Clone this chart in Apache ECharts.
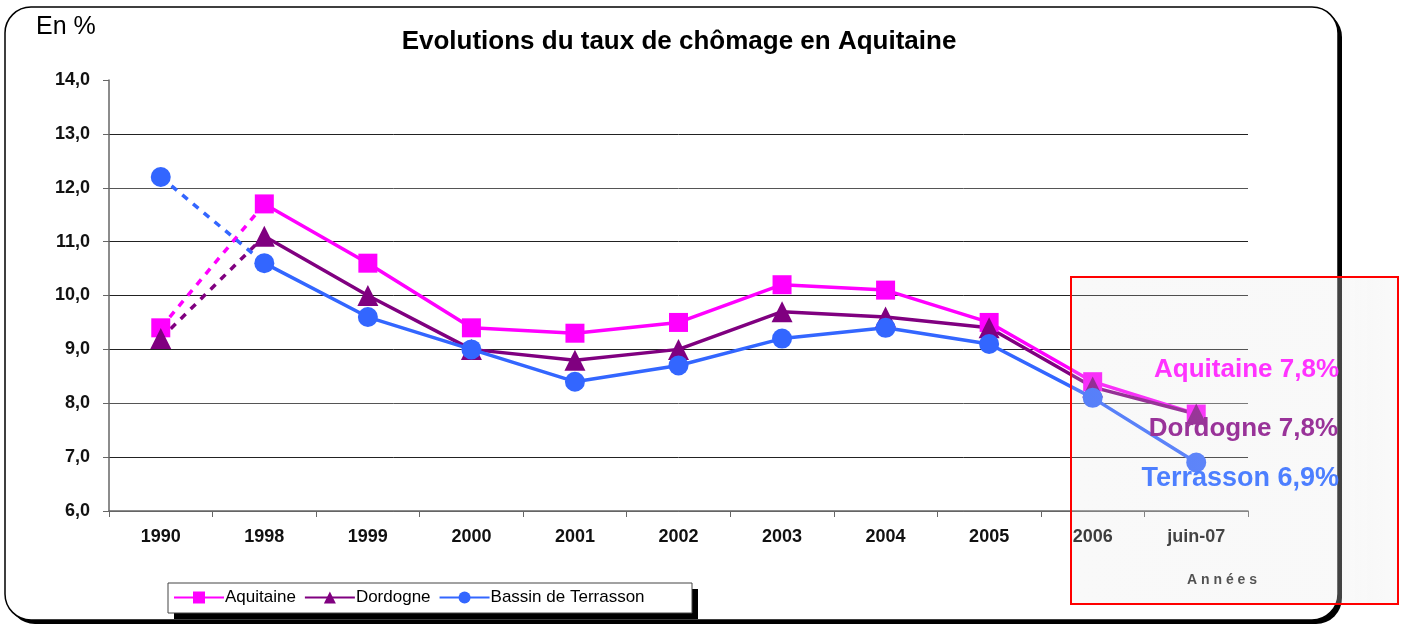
<!DOCTYPE html>
<html>
<head>
<meta charset="utf-8">
<script src="https://cdn.jsdelivr.net/npm/echarts@6/dist/echarts.min.js"></script>
<style>
  html, body { margin: 0; padding: 0; background: #fff; }
  #chart { width: 1405px; height: 626px; }
</style>
</head>
<body>
<div id="chart"></div>
<script>
// categories (années)
const annees = ['1990', '1998', '1999', '2000', '2001', '2002', '2003', '2004', '2005', '2006', 'juin-07']
// taux de chômage en %
const aquitaine = [9.4, 11.7, 10.6, 9.4, 9.3, 9.5, 10.2, 10.1, 9.5, 8.4, 7.8]
const dordogne = [9.2, 11.1, 10.0, 9.0, 8.8, 9.0, 9.7, 9.6, 9.4, 8.3, 7.8]
const terrasson = [12.2, 10.6, 9.6, 9.0, 8.4, 8.7, 9.2, 9.4, 9.1, 8.1, 6.9]

const couleurs = { aq: '#ff00ff', dor: '#800080', ter: '#3366ff' }
const fmt = v => v.toFixed(1).replace('.', ',')

// partie pleine (1998 -> juin-07) et partie pointillée (1990 -> 1998)
const plein = arr => arr.map((v, i) => (i === 0 ? null : v))
const pointille = arr => arr.map((v, i) => (i <= 1 ? v : null))

function serie(name, arr, color, symbol, size) {
  return [
    {
      name,
      type: 'line',
      data: plein(arr),
      symbol,
      symbolSize: size,
      itemStyle: { color },
      lineStyle: { color, width: 3.5 },
      z: 3
    },
    {
      name: name + '_dash',
      type: 'line',
      data: pointille(arr),
      symbol: (v, p) => (p.dataIndex === 0 ? symbol : 'none'),
      symbolSize: size,
      itemStyle: { color },
      lineStyle: { color, width: 3.5, type: [7, 7] },
      z: 2
    }
  ]
}

const chart = echarts.init(document.getElementById('chart'))

const last = annees.length - 1
const labelFont = size => 'bold ' + size + 'px "Liberation Sans", Arial, sans-serif'

chart.setOption({
  animation: false,
  textStyle: { fontFamily: '"Liberation Sans", Arial, sans-serif' },
  title: {
    text: 'Evolutions du taux de chômage en Aquitaine',
    left: 674,
    textAlign: 'center',
    top: 24,
    textStyle: { fontSize: 26, fontWeight: 'bold', color: '#000' }
  },
  grid: { left: 109, right: 157, top: 80, bottom: 115, containLabel: false },
  legend: {
    data: ['Aquitaine', 'Dordogne', 'Bassin de Terrasson'],
    left: 168,
    top: 589,
    itemWidth: 50,
    itemHeight: 15,
    itemGap: 8,
    padding: [0, 0, 0, 5],
    textStyle: { fontSize: 17, color: '#000', padding: [0, 0, 0, -4] }
  },
  xAxis: {
    type: 'category',
    data: annees,
    boundaryGap: true,
    axisLine: { lineStyle: { color: '#666', width: 1.5 } },
    axisTick: { show: true, length: 6, inside: false, lineStyle: { color: '#666' } },
    axisLabel: { fontSize: 18, fontWeight: 'bold', color: '#111', margin: 17 }
  },
  yAxis: {
    type: 'value',
    min: 6,
    max: 14,
    interval: 1,
    axisLine: { show: true, lineStyle: { color: '#666', width: 1.5 } },
    axisTick: { show: true, length: 6, lineStyle: { color: '#666' } },
    axisLabel: { fontSize: 18, fontWeight: 'bold', color: '#111', margin: 19, formatter: fmt },
    splitLine: {
      lineStyle: {
        color: ['#666', '#222', '#555', '#222', '#222', '#222', '#555', '#222', 'transparent'],
        width: 1
      }
    }
  },
  series: [
    ...serie('Aquitaine', aquitaine, couleurs.aq, 'rect', 19),
    ...serie('Dordogne', dordogne, couleurs.dor, 'triangle', 21),
    ...serie('Bassin de Terrasson', terrasson, couleurs.ter, 'circle', 20)
  ],
  graphic: [
    // cadre arrondi avec ombre
    {
      type: 'rect', z: -20, silent: true,
      shape: { x: 9, y: 11, width: 1333, height: 613, r: 26 },
      style: { fill: '#000' }
    },
    {
      type: 'rect', z: -19, silent: true,
      shape: { x: 5, y: 7, width: 1333, height: 613, r: 26 },
      style: { fill: '#fff', stroke: '#000', lineWidth: 1.5 }
    },
    // boîte de la légende avec ombre
    {
      type: 'rect', z: 1, silent: true,
      shape: { x: 174, y: 589, width: 524, height: 30 },
      style: { fill: '#000' }
    },
    {
      type: 'rect', z: 2, silent: true,
      shape: { x: 168, y: 583, width: 524, height: 30 },
      style: { fill: '#fff', stroke: '#444', lineWidth: 1 }
    },
    {
      type: 'text', left: 36, top: 15, z: 10,
      style: { text: 'En %', font: '25px "Liberation Sans", Arial, sans-serif', fill: '#000' }
    },
    {
      type: 'text', left: 1187, top: 573, z: 10,
      style: { text: 'A n n é e s', font: 'bold 14px "Liberation Sans", Arial, sans-serif', fill: '#222' }
    },
    // encadré rouge
    {
      type: 'rect', z: 50, silent: true,
      shape: { x: 1071, y: 277, width: 327, height: 327 },
      style: {
        fill: {
          type: 'linear', x: 0, y: 0, x2: 1, y2: 0,
          colorStops: [
            { offset: 0, color: 'rgba(225,225,225,0.2)' },
            { offset: 1, color: 'rgba(235,235,235,0.3)' }
          ]
        },
        stroke: '#ff0000',
        lineWidth: 2
      }
    },
    {
      type: 'text', z: 60, right: 1405 - 1339, top: 357,
      style: { text: 'Aquitaine ' + fmt(aquitaine[last]) + '%', font: labelFont(26), fill: '#ff33ff', textAlign: 'right' }
    },
    {
      type: 'text', z: 60, right: 1405 - 1338, top: 416,
      style: { text: 'Dordogne ' + fmt(dordogne[last]) + '%', font: labelFont(26), fill: '#993399', textAlign: 'right' }
    },
    {
      type: 'text', z: 60, right: 1405 - 1339, top: 465,
      style: { text: 'Terrasson ' + fmt(terrasson[last]) + '%', font: labelFont(27), fill: '#4d7fff', textAlign: 'right' }
    }
  ]
})
</script>
</body>
</html>
